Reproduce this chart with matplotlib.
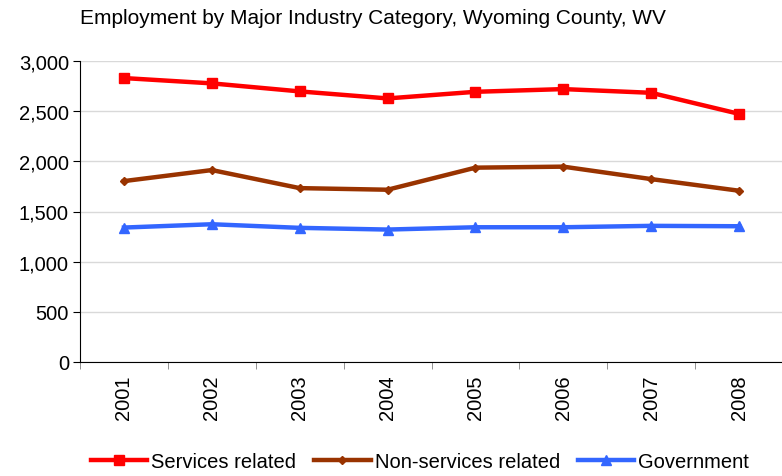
import matplotlib
matplotlib.use("Agg")
import matplotlib.pyplot as plt
import numpy as np

years = ["2001", "2002", "2003", "2004", "2005", "2006", "2007", "2008"]
services = [2830, 2777, 2697, 2627, 2693, 2720, 2683, 2473]
non_services = [1803, 1913, 1733, 1717, 1937, 1947, 1823, 1707]
government = [1340, 1373, 1337, 1320, 1343, 1343, 1357, 1353]

plt.rcParams['font.family'] = ['Liberation Sans', 'DejaVu Sans']

fig = plt.figure(figsize=(7.82, 4.77), dpi=100)
ax = fig.add_axes([80/782, 1-363/477, (783-80)/782, (363-62)/477])

x = np.arange(len(years))
ax.plot(x, services, color='#FF0000', lw=3.2, marker='s', ms=7.5, label='Services related')
ax.plot(x, non_services, color='#993300', lw=3.2, marker='D', ms=4.5, label='Non-services related')
ax.plot(x, government, color='#3366FF', lw=3.2, marker='^', ms=7.5, label='Government')

ax.set_xlim(-0.5, len(years)-0.5)
ax.set_ylim(0, 3000)
ax.set_yticks(np.arange(0, 3001, 500))
ax.set_yticklabels([f"{v:,}" for v in range(0, 3001, 500)], fontsize=14.5)
ax.set_xticks(x)
ax.set_xticklabels(years, rotation=90, fontsize=14.5)
ax.set_xticks(np.arange(-0.5, len(years), 1), minor=True)
ax.tick_params(axis='x', which='major', length=0, pad=9)
ax.tick_params(axis='x', which='minor', length=5, color='#808080')
ax.tick_params(axis='y', length=5, pad=3)
ax.yaxis.grid(True, color='#D9D9D9', lw=1)
ax.set_axisbelow(True)
for s in ['top', 'right']:
    ax.spines[s].set_visible(False)
ax.spines['left'].set_color('black')
ax.spines['bottom'].set_color('black')

fig.text(80/782, 1-18/477, "Employment by Major Industry Category, Wyoming County, WV",
         fontsize=15, va='center', ha='left')

fig.legend(loc='center', bbox_to_anchor=(420/782, 1-463/477), ncol=3, frameon=False,
           fontsize=14.5, handlelength=2.8, columnspacing=0.9, handletextpad=0.2)

fig.savefig("out.png", dpi=100)
